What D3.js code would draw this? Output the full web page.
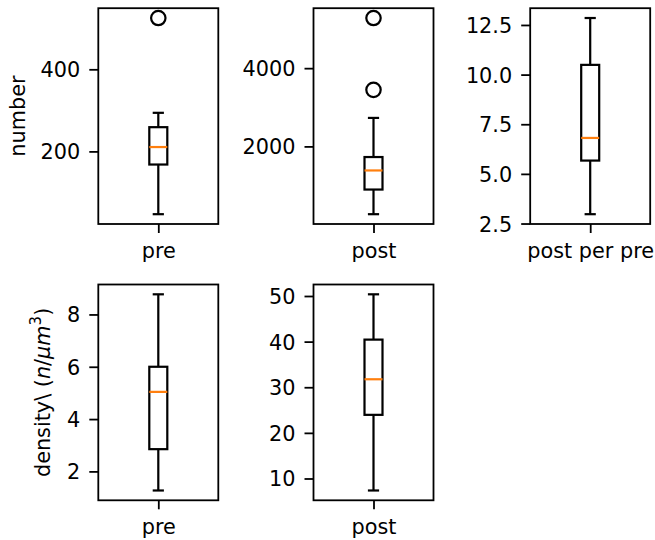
<!DOCTYPE html>
<html>
<head>
<meta charset="utf-8">
<script src="https://cdn.jsdelivr.net/npm/d3@7"></script>
<style>
  body { margin: 0; background: #fff; }
  svg { display: block; }
  text { font-family: "DejaVu Sans", sans-serif; fill: #000; }
</style>
</head>
<body>
<div id="chart"></div>
<script>
// box statistics, one entry per subplot
const labels   = ['pre', 'post', 'post per pre', 'pre', 'post'];
const whiskLo  = [47, 267, 2.97, 1.27, 7.37];
const q1       = [168, 897, 5.67, 2.85, 23.95];
const median   = [210.6, 1385, 6.81, 5.04, 31.75];
const q3       = [259, 1728, 10.49, 6.0, 40.44];
const whiskHi  = [294, 2728, 12.85, 8.77, 50.37];
const fliers   = [[525], [3446, 5282], [], [], []];
const yTicks   = [[200, 400], [2000, 4000], [2.5, 5, 7.5, 10, 12.5], [2, 4, 6, 8], [10, 20, 30, 40, 50]];
const yFormats = ['d', 'd', '.1f', 'd', 'd'];

const W = 655, H = 540;
const fs = 20.8;          // 8pt at this dpi
const px = 2.6;           // px per pt
const colX = [98.3, 313.5, 530.2];
const rowY = [8.2, 284.5];
const pw = 120, ph = 215.8;

const svg = d3.select('#chart').append('svg')
  .attr('width', W)
  .attr('height', H);

labels.forEach((lab, i) => {
  const left = colX[i % 3], top = rowY[Math.floor(i / 3)];
  const g = svg.append('g').attr('transform', `translate(${left} ${top})`);

  // matplotlib-style autoscale: 5% margin around all data
  const lo = d3.min([whiskLo[i], ...fliers[i]]);
  const hi = d3.max([whiskHi[i], ...fliers[i]]);
  const m = (hi - lo) * 0.05;
  const y = d3.scaleLinear().domain([lo - m, hi + m]).range([ph, 0]);
  const x = d3.scaleLinear().domain([0.5, 1.5]).range([0, pw]);

  const bw = 0.15, cw = bw / 2;
  const lw = 1.0 * px * 0.85;

  // whiskers
  g.append('line')
    .attr('x1', x(1)).attr('x2', x(1))
    .attr('y1', y(whiskLo[i])).attr('y2', y(q1[i]))
    .attr('stroke', '#000').attr('stroke-width', lw);
  g.append('line')
    .attr('x1', x(1)).attr('x2', x(1))
    .attr('y1', y(q3[i])).attr('y2', y(whiskHi[i]))
    .attr('stroke', '#000').attr('stroke-width', lw);
  // caps (projecting ends, like matplotlib's default)
  [whiskLo[i], whiskHi[i]].forEach(v => {
    g.append('line')
      .attr('x1', x(1 - cw / 2)).attr('x2', x(1 + cw / 2))
      .attr('y1', y(v)).attr('y2', y(v))
      .attr('stroke', '#000').attr('stroke-width', lw)
      .attr('stroke-linecap', 'square');
  });
  // box
  g.append('rect')
    .attr('x', x(1 - bw / 2))
    .attr('y', y(q3[i]))
    .attr('width', x(1 + bw / 2) - x(1 - bw / 2))
    .attr('height', y(q1[i]) - y(q3[i]))
    .attr('fill', 'none')
    .attr('stroke', '#000').attr('stroke-width', lw);
  // median
  g.append('line')
    .attr('x1', x(1 - bw / 2)).attr('x2', x(1 + bw / 2))
    .attr('y1', y(median[i])).attr('y2', y(median[i]))
    .attr('stroke', '#ff7f0e').attr('stroke-width', lw);
  // outliers
  g.selectAll('circle.flier')
    .data(fliers[i])
    .join('circle')
      .attr('class', 'flier')
      .attr('cx', x(1))
      .attr('cy', d => y(d))
      .attr('r', 7.2)
      .attr('fill', 'none')
      .attr('stroke', '#000')
      .attr('stroke-width', lw);

  // axes
  const yAxis = g.append('g')
    .call(d3.axisLeft(y)
      .tickValues(yTicks[i])
      .tickFormat(d3.format(yFormats[i]))
      .tickSize(9)
      .tickPadding(9));
  const xAxis = g.append('g')
    .attr('transform', `translate(0 ${ph})`)
    .call(d3.axisBottom(x)
      .tickValues([1])
      .tickFormat(() => lab)
      .tickSize(9)
      .tickPadding(9));
  [yAxis, xAxis].forEach(a => {
    a.attr('font-size', fs).attr('font-family', '"DejaVu Sans", sans-serif');
    a.select('.domain').remove();
    a.selectAll('.tick line').attr('stroke-width', 1.8);
  });
  yAxis.selectAll('.tick text').attr('dy', '0.36em');
  xAxis.selectAll('.tick text').attr('dy', '0.76em');

  // frame on top
  g.append('rect')
    .attr('width', pw).attr('height', ph)
    .attr('fill', 'none')
    .attr('stroke', '#000').attr('stroke-width', 1.8);
});

// y labels
svg.append('text')
  .attr('transform', `translate(25 ${rowY[0] + ph / 2}) rotate(-90)`)
  .attr('text-anchor', 'middle')
  .attr('font-size', fs)
  .text('number');

const dens = svg.append('text')
  .attr('transform', `translate(50 ${rowY[1] + ph / 2}) rotate(-90)`)
  .attr('text-anchor', 'middle')
  .attr('font-size', fs);
dens.append('tspan').text('density\\ (');
dens.append('tspan').attr('font-style', 'italic').text('n');
dens.append('tspan').text('/');
dens.append('tspan').attr('font-style', 'italic').text('μm');
dens.append('tspan').attr('font-size', fs * 0.72).attr('dy', -9).text('3');
dens.append('tspan').attr('dy', 9).text(')');
</script>
</body>
</html>
